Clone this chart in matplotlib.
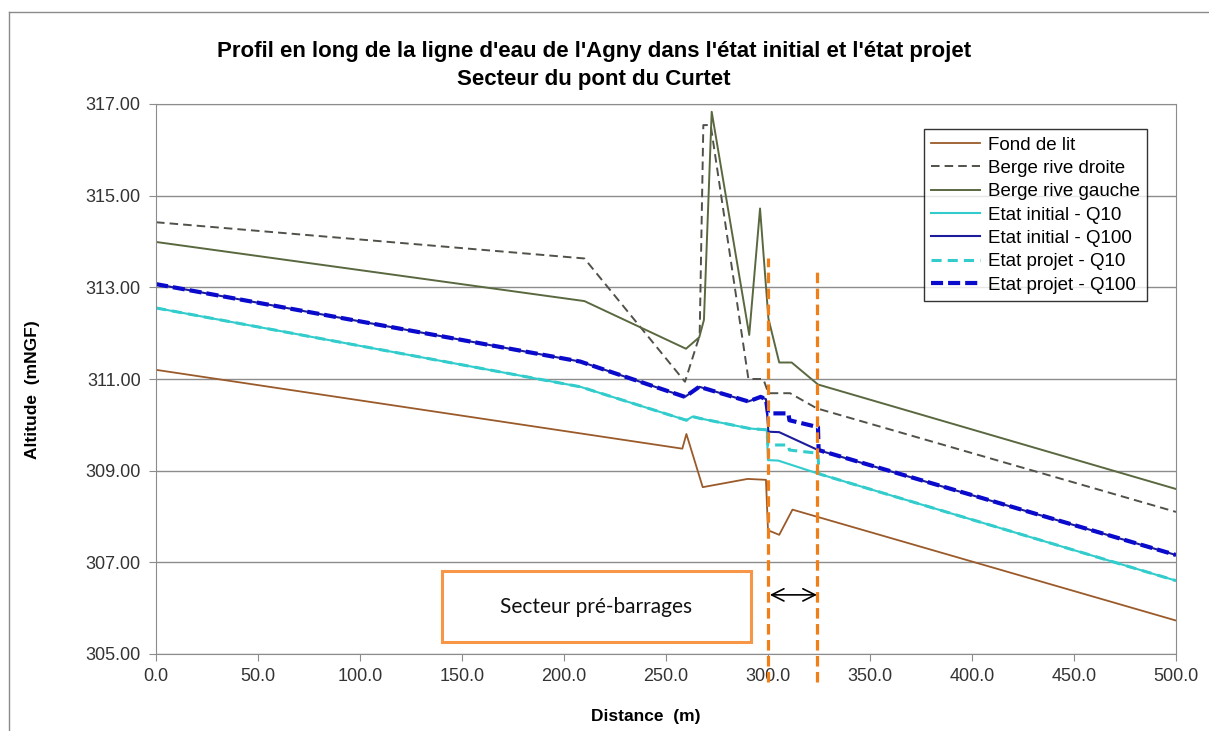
import matplotlib
matplotlib.use("Agg")
import matplotlib.pyplot as plt
from matplotlib.patches import Rectangle
from matplotlib.lines import Line2D

# profile data (distance in m, altitude in mNGF)
fond_x = [0, 258, 260, 268, 290, 299, 300, 305.5, 312, 500]
fond_y = [311.2, 309.48, 309.8, 308.64, 308.82, 308.8, 307.7, 307.6, 308.15, 305.73]

droite_x = [0, 210, 259.3, 266.5, 268.3, 271.9, 290.4, 297.7, 300.2, 310.8, 323.9, 500]
droite_y = [314.42, 313.63, 310.94, 311.95, 316.54, 316.54, 311.0, 311.0, 310.69, 310.69, 310.36, 308.1]

gauche_x = [0, 210, 259.8, 266.3, 268.6, 272.4, 290.8, 296.1, 300.2, 305.5, 311.6, 324.5, 500]
gauche_y = [313.99, 312.7, 311.66, 311.91, 312.29, 316.83, 311.96, 314.72, 312.32, 311.36, 311.36, 310.88, 308.6]

init_q10_x = [0, 208, 260, 263, 266.7, 291, 299.4, 300, 305, 325, 500]
init_q10_y = [312.55, 310.83, 310.1, 310.18, 310.14, 309.92, 309.89, 309.23, 309.22, 308.93, 306.6]

init_q100_x = [0, 208, 259.3, 266.3, 290.4, 296.4, 299, 300.2, 305.5, 324.5, 500]
init_q100_y = [313.07, 311.38, 310.61, 310.83, 310.51, 310.61, 310.56, 309.85, 309.84, 309.45, 307.16]

proj_q10_x = [0, 208, 260, 263, 266.7, 291, 299.4, 300, 310, 310.5, 324.5, 325, 500]
proj_q10_y = [312.55, 310.83, 310.1, 310.18, 310.14, 309.92, 309.89, 309.56, 309.56, 309.45, 309.38, 308.93, 306.6]

proj_q100_x = [0, 208, 259.3, 266.3, 290.4, 296.4, 299, 300, 310, 310.5, 324.5, 324.8, 500]
proj_q100_y = [313.07, 311.38, 310.61, 310.83, 310.51, 310.61, 310.56, 310.25, 310.25, 310.1, 309.95, 309.45, 307.16]

yticks = [305, 307, 309, 311, 313, 315, 317]
xticks = [0, 50, 100, 150, 200, 250, 300, 350, 400, 450, 500]

W, H = 1209, 731
fig = plt.figure(figsize=(W / 100, H / 100), dpi=100)
fig.patch.set_facecolor("white")
ax = fig.add_axes([156 / W, 1 - 654 / H, (1176 - 156) / W, (654 - 104) / H])

# outer chart border (only top and left visible)
fig.add_artist(Line2D([9 / W, 9 / W], [0, 1 - 12 / H], transform=fig.transFigure, color="#8a8a8a", lw=1))
fig.add_artist(Line2D([9 / W, 1], [1 - 12 / H, 1 - 12 / H], transform=fig.transFigure, color="#8a8a8a", lw=1))

ax.plot(fond_x, fond_y, color="#9a5a2a", lw=1.3, label="Fond de lit")
ax.plot(droite_x, droite_y, color="#50524a", lw=1.4, dashes=(4.4, 2.6), label="Berge rive droite")
ax.plot(gauche_x, gauche_y, color="#5a6840", lw=1.4, label="Berge rive gauche")
ax.plot(init_q10_x, init_q10_y, color="#33cccc", lw=1.5, label="Etat initial - Q10")
ax.plot(init_q100_x, init_q100_y, color="#1c1c9c", lw=1.5, label="Etat initial - Q100")
ax.plot(proj_q10_x, proj_q10_y, color="#33cccc", lw=2.2, dashes=(3.3, 2.0), label="Etat projet - Q10")
ax.plot(proj_q100_x, proj_q100_y, color="#0a0acc", lw=3.0, dashes=(2.9, 1.2), label="Etat projet - Q100")

ax.set_xlim(0, 500)
ax.set_ylim(305, 317)
ax.set_xticks(xticks)
ax.set_yticks(yticks)
ax.set_xticklabels([f"{v:.1f}" for v in xticks])
ax.set_yticklabels([f"{v:.2f}" for v in yticks])
ax.yaxis.grid(True, color="#8c8c8c", lw=1)
ax.set_axisbelow(True)
for s in ax.spines.values():
    s.set_color("#8c8c8c")
ax.tick_params(direction="out", length=5, color="#8c8c8c", labelsize=13, labelcolor="#333333")
ax.tick_params(axis="y", pad=6)
ax.tick_params(axis="x", pad=5)
for lab in ax.get_xticklabels() + ax.get_yticklabels():
    lab.set_family("Liberation Sans")

# annotations: secteur pre-barrages box, dams limits, arrow
ax.add_patch(Rectangle((140, 305.27), 151.5, 1.55, facecolor="white", edgecolor="#f79646", lw=2.2, zorder=5))
ax.text(215.7, 306.02, "Secteur pré-barrages", ha="center", va="center", fontsize=15,
        family="Lato", color="#111111", zorder=6)
for xv, ytop in [(300, 313.64), (324.2, 313.36)]:
    ax.plot([xv, xv], [304.4, ytop], color="#f07f18", lw=2.3, dashes=(3.3, 1.7), clip_on=False, zorder=7)
ax.annotate("", xy=(300.9, 306.29), xytext=(324.0, 306.29),
            arrowprops=dict(arrowstyle="<->", lw=1.2, color="black", mutation_scale=22, shrinkA=0, shrinkB=0),
            zorder=8)

leg = ax.legend(loc="upper right", bbox_to_anchor=(1147 / W, 1 - 129 / H), bbox_transform=fig.transFigure,
                borderaxespad=0, frameon=True, fancybox=False, handlelength=2.6,
                handletextpad=0.4, labelspacing=0.33, borderpad=0.4,
                prop={"family": "Liberation Sans", "size": 13.5})
leg.get_frame().set_edgecolor("black")
leg.get_frame().set_linewidth(1)
leg.set_zorder(10)

fig.text(594 / W, 1 - 52 / H, "Profil en long de la ligne d'eau de l'Agny dans l'état initial et l'état projet",
         ha="center", va="center", fontsize=16, fontweight="bold", family="Liberation Sans")
fig.text(594 / W, 1 - 79 / H, "Secteur du pont du Curtet",
         ha="center", va="center", fontsize=16, fontweight="bold", family="Liberation Sans")
fig.text(33 / W, 1 - 390 / H, "Altitude  (mNGF)", rotation=90, ha="center", va="center",
         fontsize=12.5, fontweight="bold", family="Liberation Sans")
fig.text(646 / W, 1 - 716 / H, "Distance  (m)", ha="center", va="center",
         fontsize=12.5, fontweight="bold", family="Liberation Sans")

fig.savefig("out.png", dpi=100)
